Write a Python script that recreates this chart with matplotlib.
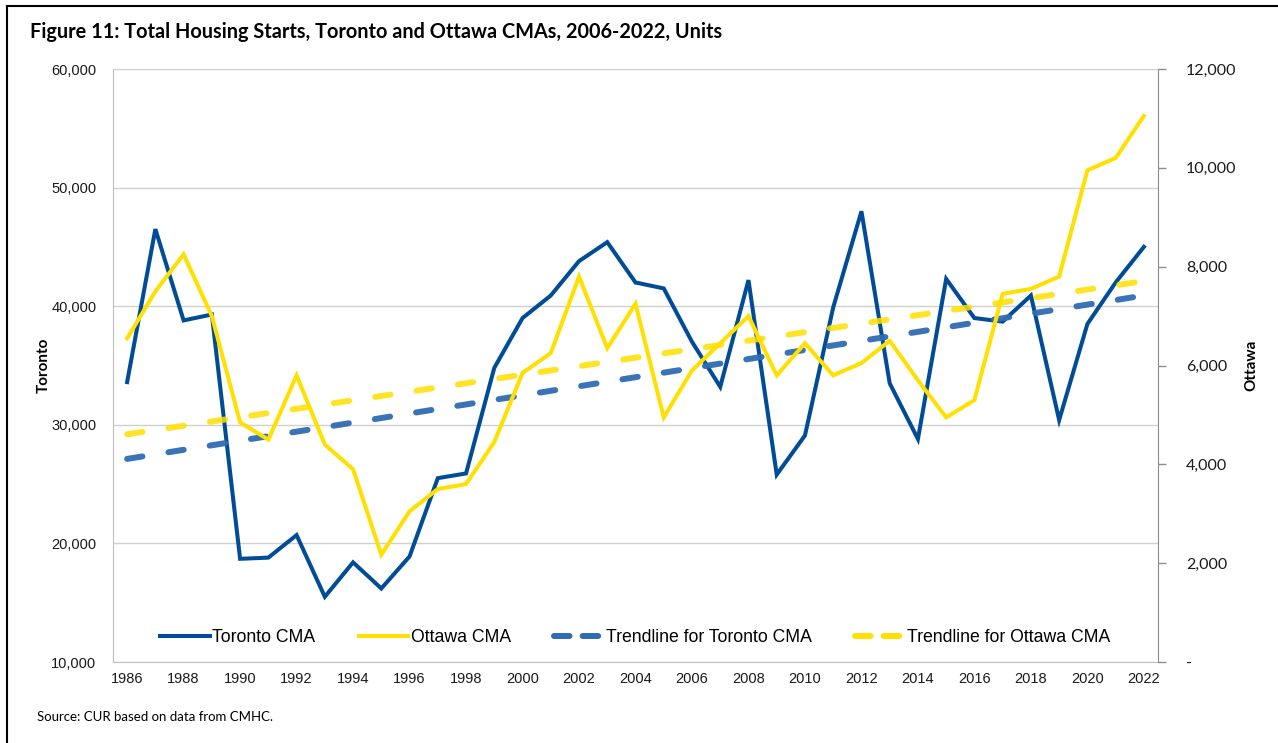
import numpy as np
import matplotlib
matplotlib.use("Agg")
import matplotlib.pyplot as plt
from matplotlib.lines import Line2D
from matplotlib.ticker import FuncFormatter

# housing starts
years = list(range(1986, 2023))
toronto = [33600, 46500, 38800, 39300, 18700, 18800, 20700, 15500, 18400, 16200,
           18900, 25500, 25900, 34800, 39000, 40900, 43800, 45400, 42000, 41500,
           37000, 33200, 42200, 25800, 29100, 39900, 48000, 33500, 28800, 42300,
           39000, 38700, 40900, 30400, 38500, 42000, 45000]
ottawa = [6550, 7500, 8250, 7000, 4850, 4500, 5800, 4400, 3900, 2170,
          3050, 3500, 3600, 4450, 5850, 6250, 7800, 6350, 7250, 4950,
          5900, 6450, 7000, 5800, 6450, 5800, 6050, 6500, 5700, 4950,
          5300, 7450, 7550, 7800, 9950, 10200, 11050]
labels = ["Toronto CMA", "Ottawa CMA", "Trendline for Toronto CMA", "Trendline for Ottawa CMA"]

blue = "#004C97"
yellow = "#FFE000"
trend_blue = "#2F6CB3"
grid_c = "#D0D0D0"

x = np.array(years)
# linear trendlines, as Excel computes them
tor_trend = np.polyval(np.polyfit(x, toronto, 1), x)
ott_trend = np.polyval(np.polyfit(x, ottawa, 1), x)

fig = plt.figure(figsize=(12.78, 7.43), dpi=100)
ax = fig.add_axes([113 / 1278, 81 / 743, 1045 / 1278, 593 / 743])
ax2 = ax.twinx()

lw = 2.9
tlw = 4.3
ax.plot(x, toronto, color=blue, lw=lw, zorder=3, solid_joinstyle="miter")
ax.plot(x, tor_trend, color=trend_blue, lw=tlw, alpha=0.95, dashes=(2.6, 4.4),
        dash_capstyle="round", zorder=4)
ax2.plot(x, ottawa, color=yellow, lw=lw, zorder=3, solid_joinstyle="miter")
ax2.plot(x, ott_trend, color=yellow, lw=tlw, alpha=0.85, dashes=(2.6, 4.4),
         dash_capstyle="round", zorder=4)

ax.set_xlim(1985.5, 2022.5)
ax.set_ylim(10000, 60000)
ax2.set_ylim(0, 12000)
ax.set_xticks(years[::2])
ax.set_yticks(range(10000, 60001, 10000))
ax2.set_yticks(range(0, 12001, 2000))

ax.yaxis.set_major_formatter(FuncFormatter(lambda v, p: f"{int(v):,}"))
ax2.yaxis.set_major_formatter(FuncFormatter(lambda v, p: "-" if v == 0 else f"{int(v):,}"))

ax.grid(axis="y", color=grid_c, lw=1.0)
ax.set_axisbelow(True)
for s in ["top"]:
    ax.spines[s].set_visible(False)
    ax2.spines[s].set_visible(False)
ax.spines["left"].set_color("#BFBFBF")
ax.spines["bottom"].set_color("#BFBFBF")
ax2.spines["left"].set_visible(False)
ax2.spines["bottom"].set_visible(False)
ax.spines["right"].set_visible(False)
ax2.spines["right"].set_color("#8C8C8C")

ax.tick_params(axis="y", length=0, pad=12, labelsize=10.5, labelcolor="#1a1a1a")
ax.tick_params(axis="x", length=0, pad=7, labelsize=10.5, labelcolor="#1a1a1a")
for t in ax.get_xticklabels() + ax.get_yticklabels():
    t.set_fontfamily("Liberation Sans")
ax2.tick_params(axis="y", length=6, width=1, color="#8C8C8C", pad=14, labelsize=11.5,
                labelcolor="#1a1a1a")
for t in ax2.get_yticklabels():
    t.set_fontfamily("Lato")

ax.set_ylabel("Toronto", fontfamily="Lato", fontweight="bold", fontsize=11, labelpad=0)
ax2.set_ylabel("Ottawa", fontfamily="Lato", fontweight="bold", fontsize=11, labelpad=6,
               rotation=90)

handles = [
    Line2D([], [], color=blue, lw=lw),
    Line2D([], [], color=yellow, lw=lw),
    Line2D([], [], color=trend_blue, lw=tlw, dashes=(2.6, 2.2), dash_capstyle="round"),
    Line2D([], [], color=yellow, lw=tlw, dashes=(2.6, 2.2), dash_capstyle="round"),
]
leg = ax2.legend(handles, labels, loc="lower center", bbox_to_anchor=(0.5, 0.0), ncol=4,
                 frameon=False, handlelength=2.8, handletextpad=0.15, columnspacing=2.45,
                 prop={"family": "Liberation Sans", "size": 12.7})

fig.text(30 / 1278, 1 - 32 / 743, "Figure 11: Total Housing Starts, Toronto and Ottawa CMAs, 2006-2022, Units",
         fontfamily="Lato", fontweight="bold", fontsize=14.3, va="center", ha="left")
fig.text(37 / 1278, 1 - 717 / 743, "Source: CUR based on data from CMHC.",
         fontfamily="Lato", fontsize=9.5, va="center", ha="left")

# outer frame, top and left edges
fig.add_artist(Line2D([7 / 1278, 1], [1 - 6 / 743, 1 - 6 / 743], color="black", lw=1.5,
                      transform=fig.transFigure))
fig.add_artist(Line2D([7 / 1278, 7 / 1278], [0, 1 - 6 / 743], color="black", lw=1.5,
                      transform=fig.transFigure))

fig.savefig("out.png", dpi=100)
